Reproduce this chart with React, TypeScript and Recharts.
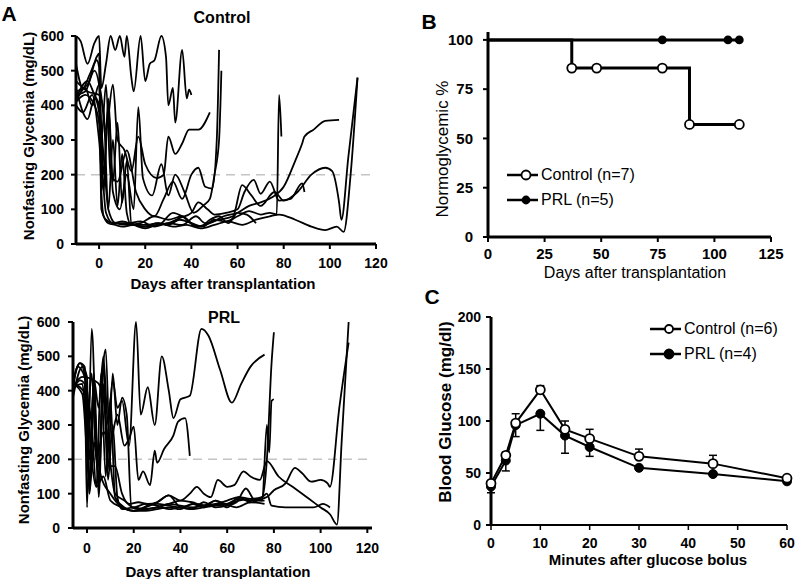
import React from "react";
import {
  LineChart,
  Line,
  XAxis,
  YAxis,
  ReferenceLine,
  ErrorBar,
  Legend,
} from "recharts";

const FONT = '"Liberation Sans", Arial, Helvetica, sans-serif';

// A: nonfasting glycemia per mouse, [day, mg/dL]
const ctrl1 = [[-10,600],[-8,585],[-5,520],[-2,580],[0,600],[1,450],[3,520],[5,600],[7,560],[9,600],[11,540],[12,600],[14,480],[15,440],[18,600],[20,470],[22,520],[24,530],[27,600],[29,540],[30,400],[32,450],[33,350],[36,560],[38,420],[39,445],[40,430]];
const ctrl2 = [[-10,450],[-7,380],[-5,360],[-2,420],[0,380],[1,150],[2,80],[4,60],[7,55],[10,50],[15,55],[20,50],[25,60],[30,55],[35,70],[40,60],[45,50],[50,70],[55,65],[60,80],[65,95],[70,85],[74,90],[77,85],[78,430],[79,310]];
const ctrl3 = [[-10,520],[-7,450],[-4,490],[-1,530],[0,510],[1,100],[3,70],[6,60],[10,65],[15,55],[20,45],[25,55],[30,60],[35,75],[40,90],[43,120],[47,100],[50,85],[55,90],[60,100],[63,150],[67,185],[70,145],[74,180],[78,125],[83,130],[88,175],[89,150]];
const ctrl4 = [[-10,420],[-5,470],[-2,430],[0,400],[2,250],[4,100],[7,60],[12,55],[18,60],[24,80],[30,70],[36,80],[42,50],[48,60],[54,80],[60,90],[65,110],[70,120],[75,135],[80,165],[85,240],[88,290],[89,310],[93,330],[98,355],[104,358]];
const ctrl5 = [[-10,410],[-6,430],[-2,400],[0,350],[3,90],[6,60],[12,60],[18,65],[24,50],[30,60],[36,55],[42,80],[46,60],[52,70],[58,80],[62,170],[66,140],[70,110],[76,150],[80,125],[86,150],[92,200],[98,220],[101,210],[104,120],[105,70],[108,250],[112,480]];
const ctrl6 = [[-10,470],[-5,440],[0,430],[2,380],[4,100],[6,300],[8,110],[10,260],[12,90],[14,55],[20,55],[26,60],[32,50],[38,55],[44,45],[50,55],[56,65],[62,55],[68,70],[74,80],[78,85],[85,70],[92,50],[98,40],[103,50],[106,35],[109,200],[112,480]];
const ctrl7 = [[-10,440],[-5,460],[-1,540],[0,550],[1,300],[3,460],[5,200],[8,180],[12,270],[16,150],[20,100],[24,80],[28,130],[32,180],[36,130],[40,200],[43,220],[46,165],[49,160],[51,300],[52,560]];
const ctrl8 = [[-10,430],[-6,440],[-2,500],[0,460],[2,200],[4,400],[6,150],[9,100],[12,200],[15,100],[17,395],[19,190],[23,140],[27,230],[30,140],[33,200],[37,150],[41,90],[45,110],[48,130],[50,200],[52,300],[53,500]];
const ctrl9 = [[-10,410],[-6,450],[-3,400],[0,460],[3,330],[6,460],[8,300],[11,270],[14,210],[17,310],[20,230],[25,190],[28,200],[30,310],[33,260],[36,290],[39,330],[43,330],[48,380]];
const ctrl10 = [[-10,400],[-7,380],[-3,430],[0,300],[2,150],[4,420],[6,180],[8,350],[10,120],[12,240],[14,60],[20,50],[26,55],[32,90],[36,80],[40,60],[44,50],[48,70],[52,80],[56,60],[60,90],[64,85],[68,60]];

const prl1 = [[-6,420],[-3,480],[-1,470],[1,200],[3,430],[5,350],[7,500],[9,300],[11,430],[13,350],[15,370],[18,240],[21,600],[23,330],[26,410],[29,300],[32,500],[35,400],[37,320],[40,375],[44,385],[49,580],[52,560],[57,460],[62,365],[66,420],[70,470],[76,505]];
const prl2 = [[-6,410],[-2,420],[0,300],[2,450],[4,200],[7,280],[10,250],[13,330],[16,240],[18,260],[20,295],[22,140],[24,165],[27,125],[29,225],[30,190],[33,230],[37,270],[39,310],[42,320],[44,210]];
const prl3 = [[-6,400],[-3,430],[-1,420],[0,60],[2,580],[4,250],[6,150],[10,100],[15,60],[20,50],[25,55],[30,60],[35,70],[40,80],[45,75],[50,65],[55,80],[60,70],[65,80],[70,85],[75,80],[77,300],[78,220],[79,370],[80,375]];
const prl4 = [[-6,380],[-2,470],[0,440],[1,100],[3,380],[5,120],[7,420],[9,140],[11,300],[13,90],[15,55],[20,60],[25,55],[30,60],[35,70],[40,65],[45,60],[50,65],[55,70],[60,80],[65,90],[70,85],[75,90],[77,200],[79,480],[80,570]];
const prl5 = [[-6,430],[-3,480],[0,400],[2,200],[4,120],[7,150],[10,80],[15,60],[20,50],[25,60],[30,75],[35,95],[40,80],[44,100],[47,120],[50,100],[53,90],[56,140],[60,120],[63,125],[67,165],[70,150],[74,140],[77,195],[82,150],[88,120],[95,85],[100,60],[104,40],[107,10],[109,250],[112,600]];
const prl6 = [[-6,420],[-3,410],[0,380],[2,300],[4,120],[6,450],[8,150],[10,380],[12,90],[16,60],[20,50],[25,50],[30,55],[35,60],[40,55],[45,70],[50,60],[55,80],[60,60],[65,90],[70,75],[75,85],[77,90],[80,110],[85,130],[89,175],[92,160],[96,135],[100,140],[103,130],[104,120],[108,350],[112,540]];
const prl7 = [[-6,410],[-2,440],[3,430],[5,420],[7,380],[9,250],[12,100],[16,80],[20,60],[25,70],[30,65],[35,55],[40,60],[45,55],[50,60],[55,65],[60,70],[65,85],[70,80],[75,90],[77,100],[79,65],[85,60],[92,60],[97,60],[101,70],[104,60]];
const prl8 = [[-6,420],[-2,390],[1,150],[3,450],[5,90],[7,480],[8,520],[10,180],[12,180],[15,100],[18,70],[22,75],[26,70],[30,75],[35,95],[40,60],[45,55],[50,75],[55,60],[60,65],[64,75],[68,115],[72,80],[76,80]];
const prl9 = [[-6,400],[-4,470],[-1,440],[1,100],[3,250],[5,150],[7,480],[9,170],[11,450],[13,300],[15,380],[17,330],[19,60],[22,55],[26,65],[30,70],[35,65],[40,60],[46,70],[52,65],[58,70],[64,60],[70,75],[76,70]];

const controlMice = [ctrl1, ctrl2, ctrl3, ctrl4, ctrl5, ctrl6, ctrl7, ctrl8, ctrl9, ctrl10];
const prlMice = [prl1, prl2, prl3, prl4, prl5, prl6, prl7, prl8, prl9];

const dayTicks = [0, 20, 40, 60, 80, 100, 120];
const glyTicks = [0, 100, 200, 300, 400, 500, 600];

// B: % normoglycemic
const ctrlSurvDays = [0, 37, 48, 77, 89, 111];
const ctrlSurvPct = [100, 85.7, 85.7, 85.7, 57.1, 57.1];
const prlSurvDays = [0, 77, 106, 111];
const prlSurvPct = [100, 100, 100, 100];
const survXTicks = [0, 25, 50, 75, 100, 125];
const survYTicks = [0, 25, 50, 75, 100];

// C: glucose tolerance
const minutes = [0, 3, 5, 10, 15, 20, 30, 45, 60];
const ctrlMean = [40, 67, 98, 130, 92, 83, 66, 59, 45];
const ctrlSem = [2, 3, 9, 4, 8, 9, 7, 8, 2];
const prlMean = [37, 62, 96, 107, 86, 75, 55, 49, 42];
const prlSem = [6, 10, 11, 16, 17, 9, 2, 2, 2];
const minTicks = [0, 10, 20, 30, 40, 50, 60];
const bgTicks = [0, 50, 100, 150, 200];

const toXY = (pts: number[][]) => pts.map(([x, y]) => ({ x, y }));

const tickFont = (size: number) => ({
  fontSize: size,
  fontWeight: 700,
  fill: "#000",
  fontFamily: FONT,
});

function Txt({
  x, y, size, bold = true, rotate = false, children,
}: {
  x: number; y: number; size: number; bold?: boolean; rotate?: boolean; children: React.ReactNode;
}) {
  return (
    <div
      style={{
        position: "absolute",
        left: x,
        top: y,
        transform: `translate(-50%, -50%)${rotate ? " rotate(-90deg)" : ""}`,
        fontFamily: FONT,
        fontSize: size,
        fontWeight: bold ? 700 : 400,
        lineHeight: 1,
        whiteSpace: "nowrap",
        color: "#000",
      }}
    >
      {children}
    </div>
  );
}

function GlycemiaPanel({
  mice, left, top, height, margin, xMin, xMax, xTickGap, yTickGap,
}: {
  mice: number[][][]; left: number; top: number; height: number;
  margin: { top: number; right: number; bottom: number; left: number };
  xMin: number; xMax: number; xTickGap: number; yTickGap: number;
}) {
  return (
    <div style={{ position: "absolute", left, top }}>
      <LineChart width={400} height={height} margin={margin}>
        <XAxis
          type="number"
          dataKey="x"
          domain={[xMin, xMax]}
          ticks={dayTicks}
          allowDataOverflow
          height={30}
          tickSize={5}
          tickMargin={xTickGap}
          axisLine={{ stroke: "#000", strokeWidth: 3 }}
          tickLine={{ stroke: "#000", strokeWidth: 2 }}
          tick={tickFont(14)}
        />
        <YAxis
          type="number"
          dataKey="y"
          domain={[0, 600]}
          ticks={glyTicks}
          width={60}
          tickSize={5}
          tickMargin={yTickGap}
          axisLine={{ stroke: "#000", strokeWidth: 3 }}
          tickLine={{ stroke: "#000", strokeWidth: 2 }}
          tick={tickFont(14)}
        />
        <ReferenceLine y={200} stroke="#c4c4c4" strokeWidth={1.5} strokeDasharray="9 6" />
        {mice.map((m, i) => (
          <Line
            key={i}
            data={toXY(m)}
            dataKey="y"
            type="monotone"
            stroke="#000"
            strokeWidth={1.8}
            dot={false}
            isAnimationActive={false}
          />
        ))}
      </LineChart>
    </div>
  );
}

function LegendRows({ items }: { items: { label: string; open: boolean; r: number }[] }) {
  return (
    <div style={{ fontFamily: FONT, fontSize: 16, color: "#000" }}>
      {items.map((it) => (
        <div key={it.label} style={{ display: "flex", alignItems: "center", height: 25 }}>
          <svg width={32} height={14} style={{ marginRight: 2 }}>
            <line x1={0} y1={7} x2={31} y2={7} stroke="#000" strokeWidth={2.5} />
            <circle
              cx={19}
              cy={7}
              r={it.r}
              fill={it.open ? "#fff" : "#000"}
              stroke="#000"
              strokeWidth={1.8}
            />
          </svg>
          <span>{it.label}</span>
        </div>
      ))}
    </div>
  );
}

function SurvivalPanel() {
  const ctrl = ctrlSurvDays.map((x, i) => ({ x, y: ctrlSurvPct[i] }));
  const prl = prlSurvDays.map((x, i) => ({ x, y: prlSurvPct[i] }));
  const mark = (open: boolean) => (p: any) => {
    if (p.payload.x === 0) return <g key={p.index} />;
    return (
      <circle
        key={p.index}
        cx={p.cx}
        cy={p.cy}
        r={open ? 4.5 : 3.5}
        fill={open ? "#fff" : "#000"}
        stroke="#000"
        strokeWidth={1.8}
      />
    );
  };
  return (
    <div style={{ position: "absolute", left: 400, top: 0 }}>
      <LineChart width={400} height={290} margin={{ top: 32, right: 29, bottom: 23, left: 28 }}>
        <XAxis
          type="number"
          dataKey="x"
          domain={[0, 125]}
          ticks={survXTicks}
          height={30}
          tickSize={5}
          tickMargin={6}
          axisLine={{ stroke: "#000", strokeWidth: 3 }}
          tickLine={{ stroke: "#000", strokeWidth: 2 }}
          tick={tickFont(15)}
        />
        <YAxis
          type="number"
          dataKey="y"
          domain={[0, 104]}
          ticks={survYTicks}
          width={60}
          tickSize={5}
          tickMargin={10}
          axisLine={{ stroke: "#000", strokeWidth: 3 }}
          tickLine={{ stroke: "#000", strokeWidth: 2 }}
          tick={tickFont(15)}
        />
        <Line
          data={prl}
          dataKey="y"
          type="stepAfter"
          stroke="#000"
          strokeWidth={3}
          dot={mark(false)}
          isAnimationActive={false}
        />
        <Line
          data={ctrl}
          dataKey="y"
          type="stepAfter"
          stroke="#000"
          strokeWidth={3}
          dot={mark(true)}
          isAnimationActive={false}
        />
        <Legend
          layout="vertical"
          align="center"
          verticalAlign="middle"
          wrapperStyle={{ left: 107, top: 162, width: 200 }}
          content={() => (
            <LegendRows
              items={[
                { label: "Control (n=7)", open: true, r: 4.5 },
                { label: "PRL (n=5)", open: false, r: 3.5 },
              ]}
            />
          )}
        />
      </LineChart>
    </div>
  );
}

function TolerancePanel() {
  const rows = minutes.map((m, i) => ({
    m,
    ctrl: ctrlMean[i],
    ctrlErr: [0, ctrlSem[i]],
    prl: prlMean[i],
    prlErr: [prlSem[i], 0],
  }));
  return (
    <div style={{ position: "absolute", left: 400, top: 280 }}>
      <LineChart width={400} height={299} data={rows} margin={{ top: 37, right: 13, bottom: 24, left: 31 }}>
        <XAxis
          type="number"
          dataKey="m"
          domain={[0, 60]}
          ticks={minTicks}
          height={30}
          tickSize={5}
          tickMargin={8}
          axisLine={{ stroke: "#000", strokeWidth: 2 }}
          tickLine={{ stroke: "#000", strokeWidth: 1.5 }}
          tick={tickFont(14)}
        />
        <YAxis
          type="number"
          domain={[0, 200]}
          ticks={bgTicks}
          width={60}
          tickSize={5}
          tickMargin={5}
          axisLine={{ stroke: "#000", strokeWidth: 3 }}
          tickLine={{ stroke: "#000", strokeWidth: 2 }}
          tick={tickFont(14)}
        />
        <Line
          dataKey="prl"
          type="linear"
          stroke="#000"
          strokeWidth={2}
          dot={{ r: 4.5, fill: "#000", stroke: "#000", strokeWidth: 1 }}
          isAnimationActive={false}
        >
          <ErrorBar dataKey="prlErr" width={4} stroke="#000" strokeWidth={1.5} direction="y" />
        </Line>
        <Line
          dataKey="ctrl"
          type="linear"
          stroke="#000"
          strokeWidth={2}
          dot={{ r: 4.5, fill: "#fff", stroke: "#000", strokeWidth: 1.8 }}
          isAnimationActive={false}
        >
          <ErrorBar dataKey="ctrlErr" width={4} stroke="#000" strokeWidth={1.5} direction="y" />
        </Line>
        <Legend
          layout="vertical"
          align="center"
          verticalAlign="middle"
          wrapperStyle={{ left: 250, top: 36, width: 150 }}
          content={() => (
            <LegendRows
              items={[
                { label: "Control (n=6)", open: true, r: 4 },
                { label: "PRL (n=4)", open: false, r: 4.5 },
              ]}
            />
          )}
        />
      </LineChart>
    </div>
  );
}

export default function App() {
  return (
    <div
      style={{
        position: "absolute",
        left: 0,
        top: 0,
        width: 800,
        height: 579,
        background: "#fff",
        overflow: "hidden",
        fontFamily: FONT,
      }}
    >
      <GlycemiaPanel
        mice={controlMice}
        left={0}
        top={0}
        height={290}
        margin={{ top: 36, right: 24, bottom: 16, left: 16 }}
        xMin={-10}
        xMax={120}
        xTickGap={9}
        yTickGap={7}
      />
      <GlycemiaPanel
        mice={prlMice}
        left={0}
        top={290}
        height={289}
        margin={{ top: 32, right: 28, bottom: 21, left: 13 }}
        xMin={-6}
        xMax={122}
        xTickGap={10}
        yTickGap={8}
      />
      <SurvivalPanel />
      <TolerancePanel />

      <Txt x={9} y={13} size={21}>A</Txt>
      <Txt x={222} y={18} size={16}>Control</Txt>
      <Txt x={28} y={136} size={15} rotate>Nonfasting Glycemia (mg/dL)</Txt>
      <Txt x={223} y={283} size={15}>Days after transplantation</Txt>

      <Txt x={224} y={318} size={16}>PRL</Txt>
      <Txt x={23} y={420} size={15} rotate>Nonfasting Glycemia (mg/dL)</Txt>
      <Txt x={218} y={571} size={15}>Days after transplantation</Txt>

      <Txt x={429} y={21} size={21}>B</Txt>
      <Txt x={442} y={149} size={17} bold={false} rotate>Normoglycemic %</Txt>
      <Txt x={635} y={273} size={16} bold={false}>Days after transplantation</Txt>

      <Txt x={432} y={296} size={21}>C</Txt>
      <Txt x={445} y={412} size={17} rotate>Blood Glucose (mg/dl)</Txt>
      <Txt x={648} y={559} size={15}>Minutes after glucose bolus</Txt>
    </div>
  );
}
